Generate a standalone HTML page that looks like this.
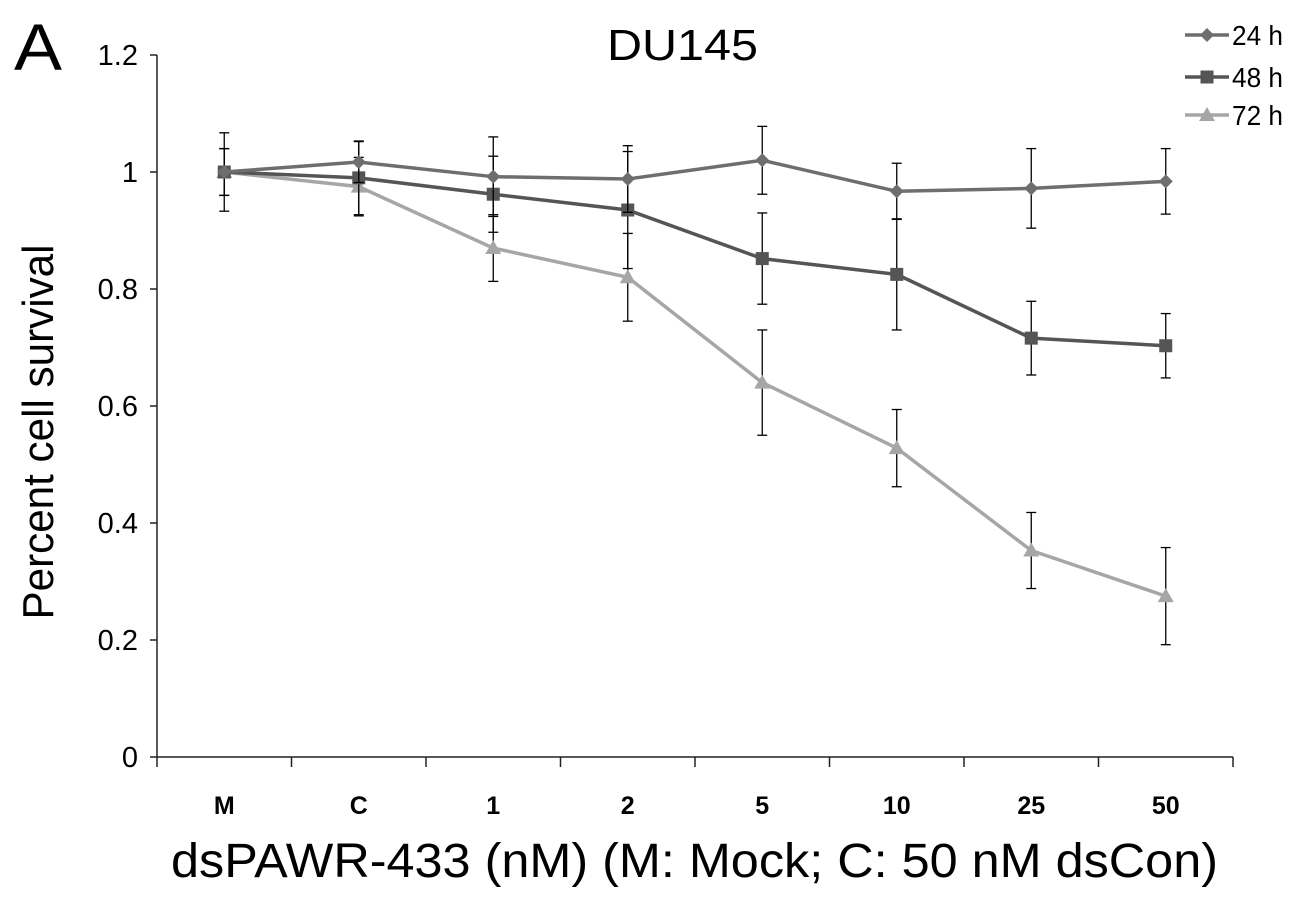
<!DOCTYPE html>
<html><head><meta charset="utf-8"><style>
body{margin:0;background:#fff;}
svg{display:block;font-family:"Liberation Sans",sans-serif;}
</style></head><body>
<svg id="chart" width="1304" height="900">
<text x="14" y="70" font-size="66" textLength="48" lengthAdjust="spacingAndGlyphs">A</text>
<text x="607" y="60" font-size="44" textLength="151" lengthAdjust="spacingAndGlyphs">DU145</text>
<text transform="translate(53,432) rotate(-90)" font-size="44" text-anchor="middle" textLength="375" lengthAdjust="spacingAndGlyphs">Percent cell survival</text>
<text x="171" y="877" font-size="48" textLength="1047" lengthAdjust="spacingAndGlyphs">dsPAWR-433 (nM) (M: Mock; C: 50 nM dsCon)</text>
<g id="axes"></g><g id="series"></g><g id="legend"></g>
</svg>
<script>
const categories=["M","C","1","2","5","10","25","50"];
const yTicks=[0,0.2,0.4,0.6,0.8,1,1.2];
const yTickLabels=["0","0.2","0.4","0.6","0.8","1","1.2"];
const seriesNames=["24 h","48 h","72 h"];
const s24=[1.0,1.017,0.992,0.988,1.02,0.967,0.972,0.984];
const s48=[1.0,0.99,0.962,0.935,0.852,0.825,0.716,0.703];
const s72=[1.0,0.975,0.87,0.82,0.64,0.528,0.353,0.275];
const e24=[0.067,0.035,0.068,0.057,0.058,0.048,0.068,0.056];
const e48=[0.04,0.063,0.065,0.1,0.078,0.095,0.063,0.055];
const e72=[0.04,0.05,0.057,0.075,0.09,0.066,0.065,0.083];
const NS="http://www.w3.org/2000/svg";
const X0=157,X1=1233,Y0=757,Y1=55;
const xs=i=>X0+(i+0.5)*(X1-X0)/categories.length;
const ys=v=>Y0-v/1.2*(Y0-Y1);
function mk(t,a,p){const e=document.createElementNS(NS,t);for(const k in a)e.setAttribute(k,a[k]);p.appendChild(e);return e;}
const ax=document.getElementById('axes');
let l=mk('line',{x1:X0,y1:Y1,x2:X0,y2:Y0,stroke:'#222','stroke-width':1.5},ax);

l=mk('line',{x1:X0,y1:Y0,x2:X1,y2:Y0,stroke:'#222','stroke-width':1.5},ax);

yTicks.forEach((v,i)=>{mk('line',{x1:X0-7,y1:ys(v),x2:X0,y2:ys(v),stroke:'#222','stroke-width':1.5},ax);
const t=mk('text',{x:X0-19,y:ys(v)+10,'font-size':29,'text-anchor':'end'},ax);t.textContent=yTickLabels[i];
});
for(let i=0;i<=categories.length;i++){const x=X0+i*(X1-X0)/categories.length;mk('line',{x1:x,y1:Y0,x2:x,y2:Y0+10,stroke:'#222','stroke-width':1.5},ax);}
categories.forEach((c,i)=>{const t=mk('text',{x:xs(i),y:814,'font-size':25,'font-weight':'bold','text-anchor':'middle'},ax);t.textContent=c;
});
const colors=["#6e6e6e","#555555","#a6a6a6"];
const data=[s24,s48,s72],errs=[e24,e48,e72];
function marker(k,x,y,g){
 if(k===0)return mk('polygon',{points:`${x},${y-7} ${x+7},${y} ${x},${y+7} ${x-7},${y}`,fill:colors[k]},g);
 if(k===1)return mk('rect',{x:x-6.5,y:y-6.5,width:13,height:13,fill:colors[k]},g);
 return mk('polygon',{points:`${x},${y-8} ${x+8},${y+6} ${x-8},${y+6}`,fill:colors[k]},g);}
const sg=document.getElementById('series');
[2,1,0].forEach(k=>{const g=mk('g',{},sg);
 data[k].forEach((v,i)=>{const x=xs(i);const a=ys(v+errs[k][i]),b=ys(v-errs[k][i]);
  mk('line',{x1:x,y1:a,x2:x,y2:b,stroke:'#000','stroke-width':1.3},g);
  mk('line',{x1:x-5,y1:a,x2:x+5,y2:a,stroke:'#000','stroke-width':1.3},g);
  mk('line',{x1:x-5,y1:b,x2:x+5,y2:b,stroke:'#000','stroke-width':1.3},g);});
 const p=mk('polyline',{points:data[k].map((v,i)=>xs(i)+','+ys(v)).join(' '),fill:'none',stroke:colors[k],'stroke-width':3.5},g);
 
 data[k].forEach((v,i)=>{const m=marker(k,xs(i),ys(v),g);});});
const lg=document.getElementById('legend');
[35,77,115].forEach((y,k)=>{const g=mk('g',{},lg);
 mk('line',{x1:1185,y1:y,x2:1229,y2:y,stroke:colors[k],'stroke-width':3.5},g);marker(k,1207,y,g);
 const t=mk('text',{x:1232,y:y+10,'font-size':28,textLength:51,lengthAdjust:'spacingAndGlyphs'},g);t.textContent=seriesNames[k];});
</script>
</body></html>
